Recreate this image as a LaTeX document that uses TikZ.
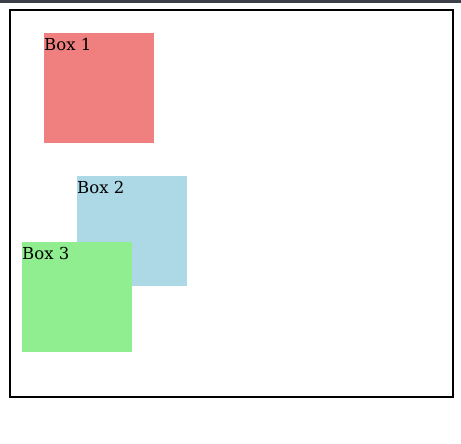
\documentclass[tikz,border=0pt]{standalone}
\usepackage{fontspec}
\setmainfont{DejaVu Serif}
\definecolor{lightcoral}{HTML}{F08080}
\definecolor{lightblue}{HTML}{ADD8E6}
\definecolor{lightgreen}{HTML}{90EE90}
\definecolor{topbar}{HTML}{3C4049}
\begin{document}
\begin{tikzpicture}[x=1pt,y=-1pt,
			box node/.style={rectangle,minimum width=110pt,minimum height=110pt,inner sep=0pt,anchor=north west},
			label node/.style={inner sep=0pt,anchor=base west,font=\fontsize{16.5}{19}\selectfont}
			]

			\useasboundingbox[fill=white] (0,0) rectangle (461,444);
			\fill[topbar] (0,0) rectangle (461,3);
			\draw[line width=2pt] (10,10) rectangle (452.5,397);

			\node[box node,fill=lightcoral] at (44,33) (b1) {};
			\node[label node] at ([yshift=-17.5pt]b1.north west) (l1) {Box 1};
			\node[box node,fill=lightblue] at (77,176) (b2) {};
			\node[label node] at ([yshift=-17.5pt]b2.north west) (l2) {Box 2};
			\node[box node,fill=lightgreen] at (22,242) (b3) {};
			\node[label node] at ([yshift=-17.5pt]b3.north west) (l3) {Box 3};
		\end{tikzpicture}
\end{document}
